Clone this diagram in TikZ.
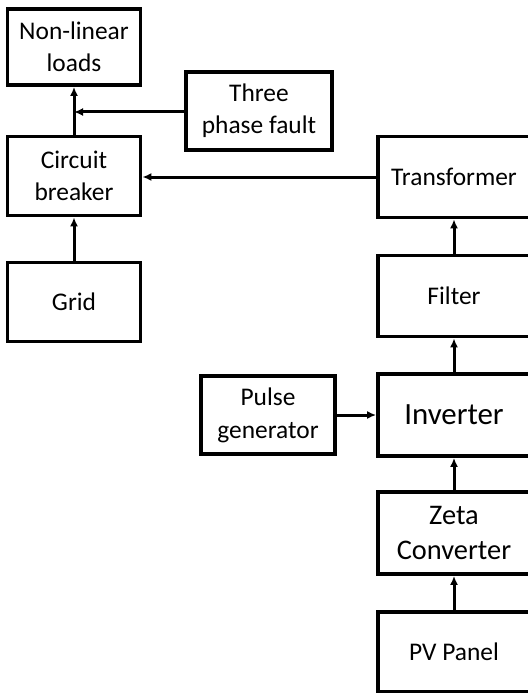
\documentclass[tikz,border=0pt]{standalone}
\usepackage{fontspec}
\setmainfont{Carlito}
\usetikzlibrary{arrows.meta}
\begin{document}
\begin{tikzpicture}[x=1bp,y=-1bp,
    block/.style={draw,line width=3.8bp,align=center,inner sep=0pt,
      font=\fontsize{25.5}{32}\selectfont},
    link/.style={line width=3bp,-{Latex[length=9bp,width=8bp]}}]
  \useasboundingbox (0,0) rectangle (528,693);
  \draw
    (74,47) node[block,minimum width=133bp,minimum height=76bp] (loads){Non-linear\\loads}
    (259,111) node[block,minimum width=146bp,minimum height=78bp] (fault){Three\\phase fault}
    (74,176) node[block,minimum width=133bp,minimum height=79bp] (breaker){Circuit\\breaker}
    (74,302) node[block,minimum width=133bp,minimum height=79bp] (grid){Grid}
    (454,177) node[block,minimum width=152bp,minimum height=81bp] (trans){Transformer}
    (454,296) node[block,minimum width=152bp,minimum height=81bp] (filter){Filter}
    (454,415) node[block,minimum width=152bp,minimum height=82bp,
      font=\fontsize{31}{36}\selectfont] (inv){Inverter}
    (268,415) node[block,minimum width=134bp,minimum height=78bp,
      font=\fontsize{25.5}{33}\selectfont] (pulse){Pulse\\generator}
    (454,533) node[block,minimum width=152bp,minimum height=82bp,
      font=\fontsize{28.5}{35}\selectfont] (zeta){Zeta\\Converter}
    (454,652) node[block,minimum width=152bp,minimum height=80bp] (pv){PV Panel};
  \coordinate (tap) at (74,112);
  \begin{scope}[link]
    \draw (grid) -- (breaker);
    \draw (breaker) -- (loads);
    \draw (fault.west |- tap) -- (tap);
    \draw (trans.west) -- (trans.west -| breaker.east);
    \draw (filter) -- (trans);
    \draw (inv) -- (filter);
    \draw (pulse) -- (inv);
    \draw (zeta) -- (inv);
    \draw (pv) -- (zeta);
  \end{scope}
\end{tikzpicture}
\end{document}
